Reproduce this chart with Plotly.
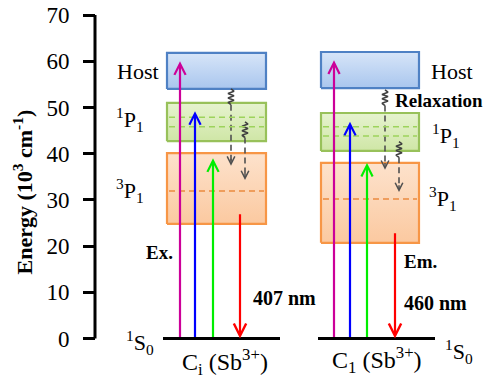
import plotly.graph_objects as go

# ---- data (energies in 10^3 cm^-1) ----
panels = ["C<sub>i</sub> (Sb<sup>3+</sup>)", "C<sub>1</sub> (Sb<sup>3+</sup>)"]
host_low = [54.0, 54.2]
host_high = [61.8, 62.0]
p1_low = [42.7, 40.6]
p1_high = [51.0, 48.8]
p1_sub_a = [47.9, 45.8]
p1_sub_b = [45.8, 43.8]
p3_low = [24.8, 20.7]
p3_high = [40.1, 38.0]
p3_sub = [31.9, 30.2]
exc_host = [60.0, 60.2]
exc_p1 = [49.2, 46.9]
exc_p3 = [39.0, 38.0]
em_start = [27.2, 23.1]
relax1_start = [54.0, 53.8]
relax1_end = [37.4, 36.5]
relax2_start = [46.9, 42.6]
relax2_end = [34.3, 31.7]
emission_nm = ["407 nm", "460 nm"]
yticks = [0, 10, 20, 30, 40, 50, 60, 70]

# ---- layout helpers ----
W, H = 486, 380
px_per_unit = 4.621
y_zero_px = 338.5
ymin = -(H - y_zero_px) / px_per_unit
ymax = ymin + H / px_per_unit

FONT = "Liberation Serif, Times New Roman, Times, serif"
box_x = [(167, 266), (321, 419)]
ground_x = [(163, 280), (318, 435)]
arrow_x = [dict(mag=180, blue=195, green=213, red=240, r1=231, r2=245),
           dict(mag=334, blue=350, green=367, red=395, r1=385, r2=399)]

fig = go.Figure()
shapes = []
ann = []

def box(x0, x1, lo, hi, c_bot, c_top, border):
    fig.add_trace(go.Scatter(
        x=[x0, x1, x1, x0, x0], y=[lo, lo, hi, hi, lo], mode="lines",
        fill="toself",
        fillgradient=dict(type="vertical", colorscale=[[0, c_bot], [1, c_top]]),
        line=dict(color=border, width=2.2), hoverinfo="skip", showlegend=False))

def arrow(x, y0, y1, color, width=2.2, size=1.0, head=5):
    ann.append(dict(x=x, y=y1, ax=x, ay=y0, xref="x", yref="y", axref="x", ayref="y",
                    text="", showarrow=True, arrowhead=head, arrowsize=size,
                    arrowwidth=width, arrowcolor=color, standoff=0))

def relax(x, y0, y1):
    # squiggle then dashed line then arrow head
    sq_h = 3.4
    n = 7
    xs, ys = [x], [y0]
    for k in range(1, n):
        xs.append(x + (3 if k % 2 else -3))
        ys.append(y0 - sq_h * k / n)
    xs.append(x); ys.append(y0 - sq_h)
    fig.add_trace(go.Scatter(x=xs, y=ys, mode="lines", line=dict(color="#404040", width=1.6),
                             hoverinfo="skip", showlegend=False))
    fig.add_trace(go.Scatter(x=[x, x], y=[y0 - sq_h, y1 + 1.0], mode="lines",
                             line=dict(color="#505050", width=1.6, dash="6px,4px"),
                             hoverinfo="skip", showlegend=False))
    arrow(x, y1 + 1.8, y1, "#505050", width=1.5, size=1.0, head=5)

for i in range(2):
    x0, x1 = box_x[i]
    box(x0, x1, p3_low[i], p3_high[i], "#fbc9a0", "#fde2cc", "#f79646")
    box(x0, x1, p1_low[i], p1_high[i], "#cfe6a6", "#e6f3cf", "#98c15a")
    box(x0, x1, host_low[i], host_high[i], "#a9c6ee", "#d7e5f8", "#4f81c4")
    for yv in (p1_sub_a[i], p1_sub_b[i]):
        shapes.append(dict(type="line", xref="x", yref="y", x0=x0 + 2, x1=x1 - 2, y0=yv, y1=yv,
                           line=dict(color="#9dd35c", width=1.5, dash="6px,4px")))
    shapes.append(dict(type="line", xref="x", yref="y", x0=x0 + 2, x1=x1 - 2, y0=p3_sub[i], y1=p3_sub[i],
                       line=dict(color="#ea8a3f", width=1.5, dash="6px,4px")))
    g0, g1 = ground_x[i]
    shapes.append(dict(type="line", xref="x", yref="y", x0=g0, x1=g1, y0=0, y1=0,
                       line=dict(color="black", width=3)))
    a = arrow_x[i]
    relax(a["r1"], relax1_start[i], relax1_end[i])
    relax(a["r2"], relax2_start[i], relax2_end[i])
    arrow(a["mag"], 0, exc_host[i], "#cc0099")
    arrow(a["blue"], 0, exc_p1[i], "#0000ff")
    arrow(a["green"], 0, exc_p3[i], "#00ee00")
    arrow(a["red"], em_start[i], 0, "#ff0000", head=5, size=1.1)

# y axis line
shapes.append(dict(type="line", xref="x", yref="y", x0=95, x1=95, y0=0, y1=70,
                   line=dict(color="black", width=3)))

def txt(x, y, s, size=22, bold=False, xanchor="left"):
    ann.append(dict(x=x, y=y, xref="x", yref="y", text=("<b>%s</b>" % s) if bold else s,
                    showarrow=False, xanchor=xanchor, yanchor="middle",
                    font=dict(family=FONT, size=size, color="black")))

# left panel labels
txt(161, 57.7, "Host", xanchor="right")
txt(146, 47.3, "<sup>1</sup>P<sub>1</sub>", xanchor="right")
txt(146, 32.1, "<sup>3</sup>P<sub>1</sub>", xanchor="right")
txt(156, -0.8, "<sup>1</sup>S<sub>0</sub>", xanchor="right")
txt(144, 18.7, "Ex.", size=19, bold=True)
txt(251, 8.8, emission_nm[0], size=20, bold=True)
txt(180, -5.1, panels[0], size=24)
# right panel labels
txt(429, 57.7, "Host")
txt(430, 44.0, "<sup>1</sup>P<sub>1</sub>")
txt(427, 30.2, "<sup>3</sup>P<sub>1</sub>")
txt(443, -2.9, "<sup>1</sup>S<sub>0</sub>")
txt(393, 51.6, "Relaxation", size=19, bold=True)
txt(402, 16.6, "Em.", size=19, bold=True)
txt(402, 7.7, emission_nm[1], size=20, bold=True)
txt(330, -4.6, panels[1], size=24)

# y title
ann.append(dict(x=23, y=31.6, xref="x", yref="y", text="<b>Energy (10<sup>3</sup> cm<sup>-1</sup>)</b>",
                showarrow=False, textangle=-90, xanchor="center", yanchor="middle",
                font=dict(family=FONT, size=22, color="black")))

fig.update_layout(
    width=W, height=H, margin=dict(l=0, r=0, t=0, b=0),
    paper_bgcolor="white", plot_bgcolor="white", showlegend=False,
    font=dict(family=FONT, color="black"),
    xaxis=dict(range=[0, W], visible=False, fixedrange=True),
    yaxis=dict(range=[ymin, ymax], tickvals=yticks, ticks="outside", ticklen=12, tickwidth=3,
               tickcolor="black", showline=False, showgrid=False, zeroline=False,
               anchor="free", position=95 / W, automargin=False, ticklabelstandoff=9,
               tickfont=dict(family=FONT, size=23, color="black")),
    shapes=shapes, annotations=ann,
)
fig.write_html("out.html")
